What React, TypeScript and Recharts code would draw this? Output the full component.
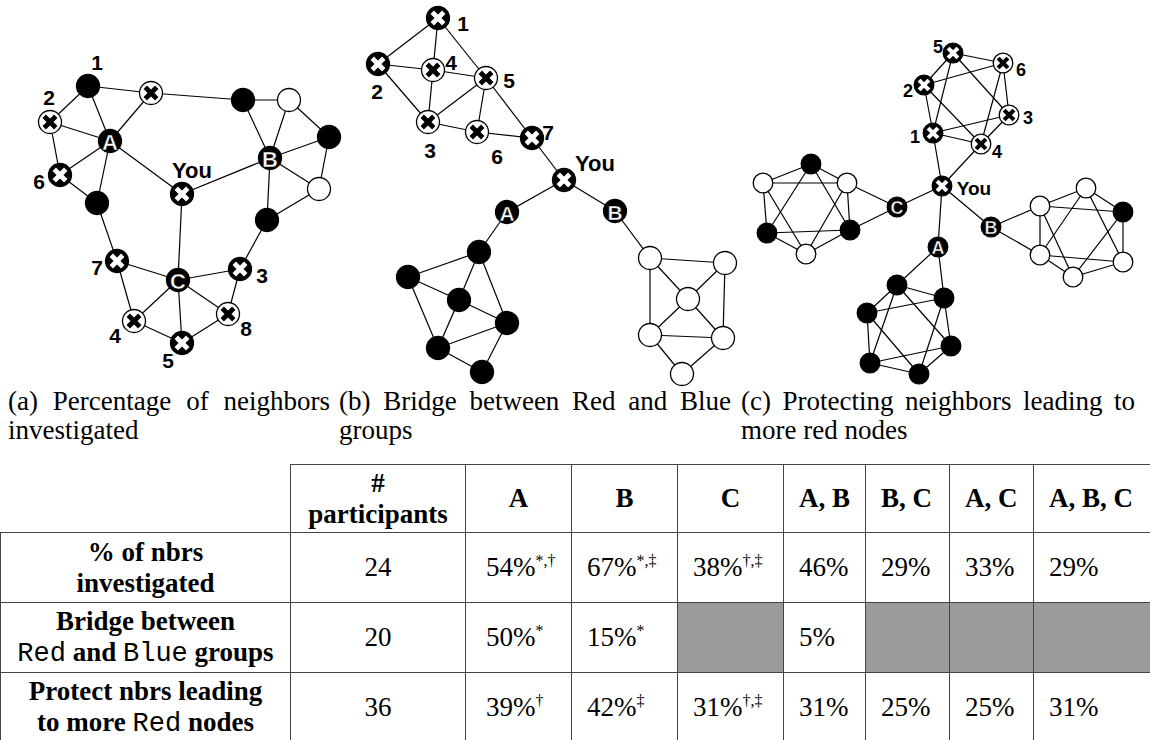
import React from "react"
import { ScatterChart, Scatter, XAxis, YAxis } from "recharts"

type Fill = "k" | "w"
type GNode = { id: string; x: number; y: number; fill: Fill; mark?: string; label?: string }

// (a) percentage of neighbors investigated
const nodesA: GNode[] = [
  { id: "a1", x: 88, y: 86, fill: "k", label: "1" },
  { id: "a2", x: 50, y: 122, fill: "w", mark: "x", label: "2" },
  { id: "aA", x: 110, y: 141, fill: "k", mark: "A" },
  { id: "aTX", x: 151, y: 93, fill: "w", mark: "x" },
  { id: "a6", x: 60, y: 175, fill: "k", mark: "x", label: "6" },
  { id: "aBA", x: 97, y: 203, fill: "k" },
  { id: "aYou", x: 182, y: 194, fill: "k", mark: "x", label: "You" },
  { id: "aB", x: 270, y: 158, fill: "k", mark: "B" },
  { id: "aBTR", x: 243, y: 100, fill: "k" },
  { id: "aWTR", x: 289, y: 100, fill: "w" },
  { id: "aBR", x: 329, y: 137, fill: "k" },
  { id: "aWR", x: 319, y: 189, fill: "w" },
  { id: "aBL", x: 267, y: 220, fill: "k" },
  { id: "a7", x: 117, y: 261, fill: "k", mark: "x", label: "7" },
  { id: "aC", x: 178, y: 280, fill: "k", mark: "C" },
  { id: "a3", x: 240, y: 269, fill: "k", mark: "x", label: "3" },
  { id: "a4", x: 134, y: 321, fill: "w", mark: "x", label: "4" },
  { id: "a5", x: 182, y: 343, fill: "k", mark: "x", label: "5" },
  { id: "a8", x: 228, y: 314, fill: "w", mark: "x", label: "8" },
]
const edgesA: [string, string][] = [
  ["a2", "a1"], ["a1", "aA"], ["a1", "aTX"], ["aTX", "aA"], ["aTX", "aBTR"], ["a2", "aA"], ["a2", "a6"],
  ["a6", "aA"], ["a6", "aBA"], ["aA", "aBA"], ["aA", "aYou"], ["aYou", "aB"], ["aYou", "aC"], ["aBA", "a7"],
  ["a7", "aC"], ["a7", "a4"], ["a4", "aC"], ["a4", "a5"], ["aC", "a5"], ["aC", "a8"], ["a8", "a5"],
  ["aC", "a3"], ["a3", "a8"], ["a3", "aBL"], ["aBTR", "aWTR"], ["aBTR", "aB"], ["aWTR", "aB"],
  ["aWTR", "aBR"], ["aB", "aBR"], ["aB", "aWR"], ["aBR", "aWR"], ["aB", "aBL"], ["aBL", "aWR"],
]

// (b) bridge between Red and Blue groups
const nodesB: GNode[] = [
  { id: "b1", x: 438, y: 18, fill: "k", mark: "x", label: "1" },
  { id: "b2", x: 378, y: 64, fill: "k", mark: "x", label: "2" },
  { id: "b4", x: 433, y: 70, fill: "w", mark: "x", label: "4" },
  { id: "b5", x: 486, y: 78, fill: "w", mark: "x", label: "5" },
  { id: "b3", x: 428, y: 122, fill: "w", mark: "x", label: "3" },
  { id: "b6", x: 477, y: 132, fill: "w", mark: "x", label: "6" },
  { id: "b7", x: 532, y: 138, fill: "k", mark: "x", label: "7" },
  { id: "bYou", x: 564, y: 180, fill: "k", mark: "x", label: "You" },
  { id: "bA", x: 507, y: 212, fill: "k", mark: "A" },
  { id: "bB", x: 615, y: 211, fill: "k", mark: "B" },
  { id: "bk1", x: 479, y: 252, fill: "k" },
  { id: "bk2", x: 408, y: 277, fill: "k" },
  { id: "bk3", x: 459, y: 300, fill: "k" },
  { id: "bk4", x: 507, y: 323, fill: "k" },
  { id: "bk5", x: 438, y: 348, fill: "k" },
  { id: "bk6", x: 482, y: 372, fill: "k" },
  { id: "bw1", x: 650, y: 258, fill: "w" },
  { id: "bw2", x: 725, y: 263, fill: "w" },
  { id: "bw3", x: 688, y: 299, fill: "w" },
  { id: "bw4", x: 650, y: 335, fill: "w" },
  { id: "bw5", x: 723, y: 338, fill: "w" },
  { id: "bw6", x: 682, y: 374, fill: "w" },
]
const edgesB: [string, string][] = [
  ["b1", "b2"], ["b1", "b4"], ["b1", "b5"], ["b2", "b4"], ["b2", "b3"], ["b4", "b5"], ["b4", "b3"],
  ["b3", "b5"], ["b5", "b6"], ["b3", "b6"], ["b6", "b7"], ["b5", "b7"], ["b7", "bYou"], ["bYou", "bA"],
  ["bYou", "bB"], ["bA", "bk1"], ["bk1", "bk2"], ["bk1", "bk3"], ["bk1", "bk4"], ["bk2", "bk3"],
  ["bk2", "bk5"], ["bk3", "bk4"], ["bk3", "bk5"], ["bk4", "bk5"], ["bk4", "bk6"], ["bk5", "bk6"],
  ["bB", "bw1"], ["bw1", "bw2"], ["bw1", "bw3"], ["bw1", "bw4"], ["bw2", "bw3"], ["bw2", "bw5"],
  ["bw3", "bw4"], ["bw3", "bw5"], ["bw4", "bw5"], ["bw4", "bw6"], ["bw5", "bw6"],
]

// (c) protecting neighbors leading to more red nodes
const nodesC: GNode[] = [
  { id: "c5", x: 953, y: 53, fill: "k", mark: "x", label: "5" },
  { id: "c6", x: 1003, y: 63, fill: "w", mark: "x", label: "6" },
  { id: "c2", x: 924, y: 85, fill: "k", mark: "x", label: "2" },
  { id: "c3", x: 1009, y: 115, fill: "w", mark: "x", label: "3" },
  { id: "c1", x: 933, y: 133, fill: "k", mark: "x", label: "1" },
  { id: "c4", x: 981, y: 144, fill: "w", mark: "x", label: "4" },
  { id: "cYou", x: 942, y: 186, fill: "k", mark: "x", label: "You" },
  { id: "cC", x: 897, y: 207, fill: "k", mark: "C" },
  { id: "cB", x: 991, y: 227, fill: "k", mark: "B" },
  { id: "cA", x: 938, y: 247, fill: "k", mark: "A" },
  { id: "cl1", x: 811, y: 164, fill: "k" },
  { id: "cl2", x: 763, y: 183, fill: "w" },
  { id: "cl3", x: 847, y: 183, fill: "w" },
  { id: "cl4", x: 767, y: 233, fill: "k" },
  { id: "cl5", x: 850, y: 230, fill: "k" },
  { id: "cl6", x: 806, y: 254, fill: "w" },
  { id: "cr1", x: 1086, y: 188, fill: "w" },
  { id: "cr2", x: 1040, y: 206, fill: "w" },
  { id: "cr3", x: 1123, y: 212, fill: "k" },
  { id: "cr4", x: 1040, y: 255, fill: "w" },
  { id: "cr5", x: 1123, y: 262, fill: "w" },
  { id: "cr6", x: 1073, y: 277, fill: "w" },
  { id: "cb1", x: 897, y: 285, fill: "k" },
  { id: "cb2", x: 944, y: 298, fill: "k" },
  { id: "cb3", x: 867, y: 313, fill: "k" },
  { id: "cb4", x: 951, y: 346, fill: "k" },
  { id: "cb5", x: 870, y: 363, fill: "k" },
  { id: "cb6", x: 919, y: 374, fill: "k" },
]
const edgesC: [string, string][] = [
  ["c5", "c6"], ["c5", "c2"], ["c5", "c1"], ["c5", "c3"], ["c2", "c6"], ["c2", "c1"], ["c2", "c4"],
  ["c6", "c3"], ["c6", "c4"], ["c1", "c3"], ["c1", "c4"], ["c3", "c4"], ["c1", "cYou"], ["c4", "cYou"],
  ["cYou", "cC"], ["cYou", "cB"], ["cYou", "cA"],
  ["cC", "cl3"], ["cC", "cl5"], ["cl1", "cl2"], ["cl1", "cl3"], ["cl2", "cl3"], ["cl1", "cl4"], ["cl1", "cl5"],
  ["cl2", "cl4"], ["cl2", "cl6"], ["cl3", "cl5"], ["cl3", "cl6"], ["cl4", "cl5"], ["cl4", "cl6"], ["cl5", "cl6"],
  ["cB", "cr2"], ["cB", "cr4"], ["cr1", "cr2"], ["cr1", "cr3"], ["cr2", "cr4"], ["cr3", "cr5"], ["cr4", "cr6"],
  ["cr5", "cr6"], ["cr1", "cr4"], ["cr1", "cr5"], ["cr4", "cr5"], ["cr2", "cr3"], ["cr2", "cr6"], ["cr3", "cr6"],
  ["cA", "cb1"], ["cA", "cb2"], ["cb1", "cb2"], ["cb1", "cb3"], ["cb2", "cb4"], ["cb3", "cb5"], ["cb4", "cb6"],
  ["cb5", "cb6"], ["cb1", "cb5"], ["cb1", "cb4"], ["cb5", "cb4"], ["cb3", "cb2"], ["cb3", "cb6"], ["cb2", "cb6"],
]

const captions = [
  "(a) Percentage of neighbors investigated",
  "(b) Bridge between Red and Blue groups",
  "(c) Protecting neighbors leading to more red nodes",
]

// table
const headers = ["A", "B", "C", "A, B", "B, C", "A, C", "A, B, C"]
const participants = [24, 20, 36]
const values: (string | null)[][] = [
  ["54%", "67%", "38%", "46%", "29%", "33%", "29%"],
  ["50%", "15%", null, "5%", null, null, null],
  ["39%", "42%", "31%", "31%", "25%", "25%", "31%"],
]
const marks: string[][] = [
  ["*,†", "*,‡", "†,‡", "", "", "", ""],
  ["*", "*", "", "", "", "", ""],
  ["†", "‡", "†,‡", "", "", "", ""],
]

const SERIF = "'Liberation Serif', 'Times New Roman', serif"
const SANS = "'Liberation Sans', Arial, sans-serif"
const MONO = "'Liberation Mono', 'Courier New', monospace"

const labelOffset: Record<string, [number, number]> = {
  a1: [9, -24], a2: [-1, -25], a6: [-21, 6], aYou: [10, -24], a7: [-20, 6], a3: [22, 6], a4: [-19, 14],
  a5: [-14, 17], a8: [18, 14],
  b1: [25, 5], b2: [-1, 27], b4: [18, -8], b5: [23, 2], b3: [2, 28], b6: [20, 24], b7: [16, -6], bYou: [31, -17],
  c5: [-15, -6], c6: [18, 7], c2: [-16, 6], c3: [19, 3], c1: [-18, 4], c4: [16, 8], cYou: [32, 2],
}

const allNodes = [...nodesA, ...nodesB, ...nodesC]
const pos: Record<string, GNode> = Object.fromEntries(allNodes.map((n) => [n.id, n]))
const allEdges = [...edgesA, ...edgesB, ...edgesC]

type PanelStyle = { r: number; labelSize: number; youSize: number; letterSize: number }

const nodeShape = (st: PanelStyle) => (props: any) => {
  const { cx, cy, payload } = props
  const n = payload as GNode
  const dark = n.fill === "k"
  const k = st.r * 0.5
  const off = labelOffset[n.id]
  return (
    <g>
      <circle cx={cx} cy={cy} r={st.r} fill={dark ? "#000" : "#fff"} stroke="#000" strokeWidth={1.3} />
      {n.mark === "x" && (
        <g stroke={dark ? "#fff" : "#000"} strokeWidth={st.r * 0.42}>
          <line x1={cx - k} y1={cy - k} x2={cx + k} y2={cy + k} />
          <line x1={cx - k} y1={cy + k} x2={cx + k} y2={cy - k} />
        </g>
      )}
      {n.mark && n.mark !== "x" && (
        <text x={cx} y={cy + 1} textAnchor="middle" dominantBaseline="central" fill="#fff" stroke="#000"
          strokeWidth={0.5} fontFamily={SANS} fontWeight="bold" fontSize={st.letterSize}>{n.mark}</text>
      )}
      {n.label && off && (
        <text x={cx + off[0]} y={cy + off[1]} textAnchor="middle" dominantBaseline="central" fill="#000"
          fontFamily={SANS} fontWeight="bold" fontSize={n.label === "You" ? st.youSize : st.labelSize}>{n.label}</text>
      )}
    </g>
  )
}

const panels = [
  { key: "a", nodes: nodesA, style: { r: 11.5, labelSize: 21, youSize: 22, letterSize: 22 } },
  { key: "b", nodes: nodesB, style: { r: 11.5, labelSize: 21, youSize: 22, letterSize: 21 } },
  { key: "c", nodes: nodesC, style: { r: 9.8, labelSize: 18, youSize: 19, letterSize: 18 } },
]

const tt = (s: string) => <span style={{ fontFamily: MONO, fontWeight: "normal" }}>{s}</span>
const rowLabels = [
  <>% of nbrs<br />investigated</>,
  <>Bridge between<br />{tt("Red")} and {tt("Blue")} groups</>,
  <>Protect nbrs leading<br />to more {tt("Red")} nodes</>,
]

const border = "1px solid #444"
const colWidths = [290, 175, 106, 106, 106, 82, 84, 84, 130]

function ResultsTable() {
  return (
    <table style={{ tableLayout: "fixed", borderCollapse: "collapse", width: colWidths.reduce((a, b) => a + b, 0), fontFamily: SERIF, fontSize: 27, lineHeight: "31px", color: "#000" }}>
      <colgroup>
        {colWidths.map((w, i) => <col key={i} style={{ width: w }} />)}
      </colgroup>
      <tbody>
        <tr style={{ height: 68 }}>
          <td style={{ border: "none", padding: 0 }} />
          <td style={{ border, textAlign: "center", fontWeight: "bold", padding: 0 }}>#<br />participants</td>
          {headers.map((h, i) => (
            <td key={h} style={{ border, fontWeight: "bold", padding: 0, textAlign: i < 3 ? "center" : "left", paddingLeft: i < 3 ? 0 : 15 }}>{h}</td>
          ))}
        </tr>
        {rowLabels.map((lab, r) => (
          <tr key={r} style={{ height: 70 }}>
            <td style={{ border, textAlign: "center", fontWeight: "bold", padding: 0 }}>{lab}</td>
            <td style={{ border, textAlign: "center", padding: 0 }}>{participants[r]}</td>
            {values[r].map((v, c) => (
              <td key={c} style={{ border, padding: 0, paddingLeft: c === 0 ? 20 : 15, background: v === null ? "#9b9b9b" : "#fff" }}>
                {v}
                {v && marks[r][c] && <sup style={{ fontSize: 16, lineHeight: 0 }}>{marks[r][c]}</sup>}
              </td>
            ))}
          </tr>
        ))}
      </tbody>
    </table>
  )
}

const captionBox = [
  { left: 8, width: 322 },
  { left: 339, width: 392 },
  { left: 741, width: 394 },
]

export default function App() {
  return (
    <div style={{ position: "absolute", left: 0, top: 0, width: 1150, height: 740, overflow: "hidden", background: "#fff" }}>
      <div style={{ position: "absolute", left: 0, top: 0 }}>
        <ScatterChart width={1150} height={390} margin={{ top: 0, right: 0, bottom: 0, left: 0 }}>
          <XAxis type="number" dataKey="x" domain={[0, 1150]} allowDataOverflow hide />
          <YAxis type="number" dataKey="y" domain={[0, 390]} allowDataOverflow reversed hide />
          {allEdges.map(([s, t]) => (
            <Scatter key={s + "-" + t} data={[pos[s], pos[t]]} line={{ stroke: "#000", strokeWidth: 1.2 }}
              shape={() => <g />} isAnimationActive={false} legendType="none" />
          ))}
          {panels.map((p) => (
            <Scatter key={p.key} data={p.nodes} shape={nodeShape(p.style)} isAnimationActive={false} legendType="none" />
          ))}
        </ScatterChart>
      </div>
      {captions.map((c, i) => (
        <div key={i} style={{ position: "absolute", top: 387, left: captionBox[i].left, width: captionBox[i].width, fontFamily: SERIF, fontSize: 27, lineHeight: "29px", textAlign: "justify", color: "#000" }}>
          {c}
        </div>
      ))}
      <div style={{ position: "absolute", left: 0, top: 464 }}>
        <ResultsTable />
      </div>
    </div>
  )
}
